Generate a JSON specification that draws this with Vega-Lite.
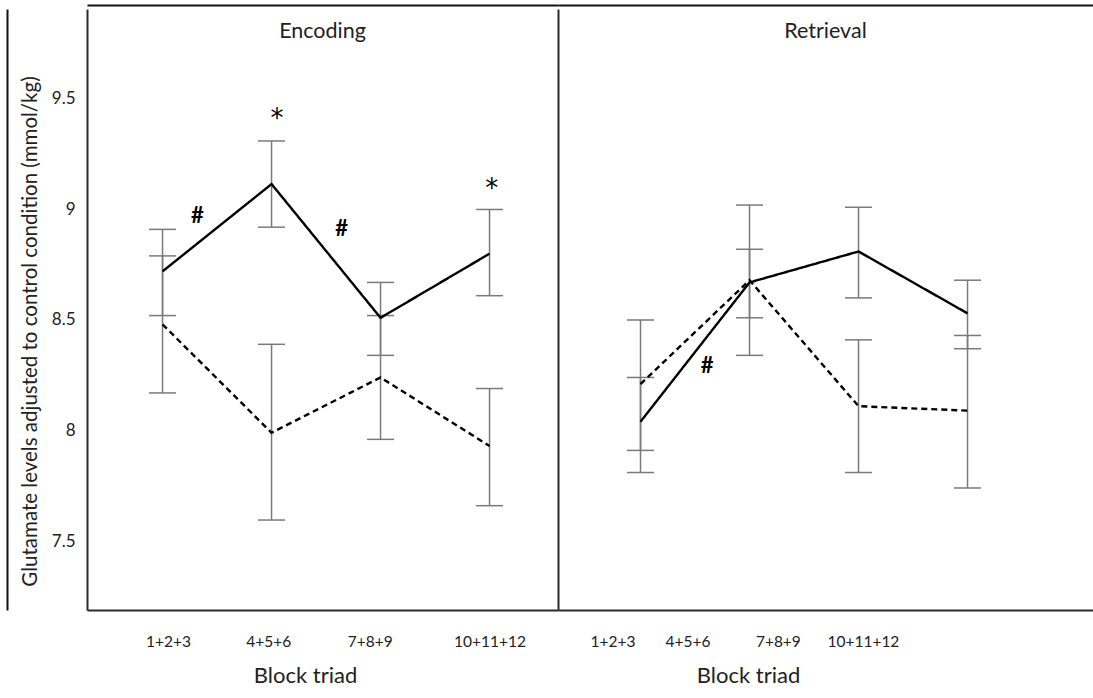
{
  "$schema": "https://vega.github.io/schema/vega-lite/v6.json",
  "padding": {"left": 7, "top": 5, "right": 0, "bottom": 0},
  "spacing": 0,
  "datasets": {
    "glutamate": [
      {"phase": "Encoding", "block": 1, "triad": "1+2+3", "condition": "A", "mean": 8.72, "lower": 8.52, "upper": 8.91},
      {"phase": "Encoding", "block": 2, "triad": "4+5+6", "condition": "A", "mean": 9.115, "lower": 8.92, "upper": 9.31},
      {"phase": "Encoding", "block": 3, "triad": "7+8+9", "condition": "A", "mean": 8.51, "lower": 8.34, "upper": 8.67},
      {"phase": "Encoding", "block": 4, "triad": "10+11+12", "condition": "A", "mean": 8.8, "lower": 8.61, "upper": 9.0},
      {"phase": "Encoding", "block": 1, "triad": "1+2+3", "condition": "B", "mean": 8.48, "lower": 8.17, "upper": 8.79},
      {"phase": "Encoding", "block": 2, "triad": "4+5+6", "condition": "B", "mean": 7.99, "lower": 7.595, "upper": 8.39},
      {"phase": "Encoding", "block": 3, "triad": "7+8+9", "condition": "B", "mean": 8.24, "lower": 7.96, "upper": 8.52},
      {"phase": "Encoding", "block": 4, "triad": "10+11+12", "condition": "B", "mean": 7.93, "lower": 7.66, "upper": 8.19},
      {"phase": "Retrieval", "block": 1, "triad": "1+2+3", "condition": "A", "mean": 8.04, "lower": 7.81, "upper": 8.24},
      {"phase": "Retrieval", "block": 2, "triad": "4+5+6", "condition": "A", "mean": 8.67, "lower": 8.51, "upper": 8.82},
      {"phase": "Retrieval", "block": 3, "triad": "7+8+9", "condition": "A", "mean": 8.81, "lower": 8.6, "upper": 9.01},
      {"phase": "Retrieval", "block": 4, "triad": "10+11+12", "condition": "A", "mean": 8.53, "lower": 8.37, "upper": 8.68},
      {"phase": "Retrieval", "block": 1, "triad": "1+2+3", "condition": "B", "mean": 8.21, "lower": 7.91, "upper": 8.5},
      {"phase": "Retrieval", "block": 2, "triad": "4+5+6", "condition": "B", "mean": 8.68, "lower": 8.34, "upper": 9.02},
      {"phase": "Retrieval", "block": 3, "triad": "7+8+9", "condition": "B", "mean": 8.11, "lower": 7.81, "upper": 8.41},
      {"phase": "Retrieval", "block": 4, "triad": "10+11+12", "condition": "B", "mean": 8.09, "lower": 7.74, "upper": 8.43}
    ],
    "notes": [
      {"phase": "Encoding", "block": 2.05, "value": 9.41, "symbol": "*"},
      {"phase": "Encoding", "block": 4.02, "value": 9.093, "symbol": "*"},
      {"phase": "Encoding", "block": 1.32, "value": 8.97, "symbol": "#"},
      {"phase": "Encoding", "block": 2.644, "value": 8.91, "symbol": "#"},
      {"phase": "Retrieval", "block": 1.61, "value": 8.293, "symbol": "#"}
    ]
  },
  "hconcat": [
    {
      "width": 471,
      "height": 601,
      "title": "Encoding",
      "resolve": {"axis": {"x": "independent", "y": "independent"}},
      "layer": [
        {
          "data": {"name": "glutamate"},
          "transform": [{"filter": "datum.phase === 'Encoding'"}],
          "mark": {"type": "rule", "color": "#7a7a7a", "strokeWidth": 1.5},
          "encoding": {
            "x": {
              "field": "block",
              "type": "quantitative",
              "scale": {"domain": [0.307, 4.628], "nice": false, "zero": false},
              "axis": {
                "values": [1.05, 1.97, 2.9, 4.0],
                "labelExpr": "['1+2+3', '4+5+6', '7+8+9', '10+11+12'][round(datum.index * 3)]",
                "title": "Block triad",
                "titleX": 218,
                "titleY": 72
              }
            },
            "xOffset": {"field": "condition", "type": "nominal", "scale": {"range": [-4.4, 4.4], "reverse": true, "paddingInner": 0, "paddingOuter": 0}},
            "y": {
              "field": "lower",
              "type": "quantitative",
              "scale": {"domain": [7.188, 9.907], "nice": false, "zero": false},
              "axis": {
                "values": [7.5, 8, 8.5, 9, 9.5],
                "format": "~g",
                "title": "Glutamate levels adjusted to control condition (mmol/kg)",
                "titleX": -57,
                "titleY": 322,
                "titleAngle": -90,
                "titleAlign": "center",
                "titleBaseline": "middle"
              }
            },
            "y2": {"field": "upper"}
          }
        },
        {
          "data": {"name": "glutamate"},
          "transform": [{"filter": "datum.phase === 'Encoding'"}],
          "mark": {"type": "tick", "orient": "horizontal", "color": "#7a7a7a", "size": 27, "thickness": 1.5, "opacity": 1},
          "encoding": {
            "x": {"field": "block", "type": "quantitative", "axis": null},
            "xOffset": {"field": "condition", "type": "nominal", "scale": {"range": [-4.4, 4.4], "reverse": true, "paddingInner": 0, "paddingOuter": 0}},
            "y": {"field": "lower", "type": "quantitative", "axis": null}
          }
        },
        {
          "data": {"name": "glutamate"},
          "transform": [{"filter": "datum.phase === 'Encoding'"}],
          "mark": {"type": "tick", "orient": "horizontal", "color": "#7a7a7a", "size": 27, "thickness": 1.5, "opacity": 1},
          "encoding": {
            "x": {"field": "block", "type": "quantitative", "axis": null},
            "xOffset": {"field": "condition", "type": "nominal", "scale": {"range": [-4.4, 4.4], "reverse": true, "paddingInner": 0, "paddingOuter": 0}},
            "y": {"field": "upper", "type": "quantitative", "axis": null}
          }
        },
        {
          "data": {"name": "glutamate"},
          "transform": [{"filter": "datum.phase === 'Encoding'"}],
          "mark": {"type": "line", "color": "#000000", "strokeWidth": 2.4},
          "encoding": {
            "x": {"field": "block", "type": "quantitative", "axis": null},
            "xOffset": {"field": "condition", "type": "nominal", "scale": {"range": [-4.4, 4.4], "reverse": true, "paddingInner": 0, "paddingOuter": 0}},
            "y": {"field": "mean", "type": "quantitative", "axis": null},
            "strokeDash": {"field": "condition", "type": "nominal", "scale": {"domain": ["A", "B"], "range": [[1, 0], [6, 4]]}, "legend": null}
          }
        },
        {
          "data": {"name": "notes"},
          "transform": [{"filter": "datum.phase === 'Encoding' && datum.symbol === '*'"}],
          "mark": {"type": "text", "font": "DejaVu Sans", "fontSize": 26, "color": "#000000", "align": "center", "baseline": "middle"},
          "encoding": {
            "x": {"field": "block", "type": "quantitative", "axis": null},
            "y": {"field": "value", "type": "quantitative", "axis": null},
            "text": {"field": "symbol"}
          }
        },
        {
          "data": {"name": "notes"},
          "transform": [{"filter": "datum.phase === 'Encoding' && datum.symbol === '#'"}],
          "mark": {"type": "text", "font": "Lato", "fontWeight": "bold", "fontSize": 22, "color": "#000000", "align": "center", "baseline": "middle"},
          "encoding": {
            "x": {
              "field": "block",
              "type": "quantitative",
              "axis": {"orient": "top", "offset": 4, "labels": false, "title": null, "domainColor": "#111111"}
            },
            "y": {
              "field": "value",
              "type": "quantitative",
              "axis": {"orient": "left", "offset": 80, "labels": false, "title": null, "domainColor": "#111111"}
            },
            "text": {"field": "symbol"}
          }
        }
      ]
    },
    {
      "width": 535,
      "height": 601,
      "title": "Retrieval",
      "resolve": {"axis": {"x": "independent", "y": "independent"}},
      "layer": [
        {
          "data": {"name": "glutamate"},
          "transform": [{"filter": "datum.phase === 'Retrieval'"}],
          "mark": {"type": "rule", "color": "#7a7a7a", "strokeWidth": 1.5},
          "encoding": {
            "x": {
              "field": "block",
              "type": "quantitative",
              "scale": {"domain": [0.243, 5.151], "nice": false, "zero": false},
              "axis": {
                "values": [0.742, 1.43, 2.26, 3.04],
                "labelExpr": "['1+2+3', '4+5+6', '7+8+9', '10+11+12'][round(datum.index * 3)]",
                "title": "Block triad",
                "titleX": 190,
                "titleY": 72
              }
            },
            "xOffset": {"field": "condition", "type": "nominal", "scale": {"range": [-4.4, 4.4], "reverse": true, "paddingInner": 0, "paddingOuter": 0}},
            "y": {
              "field": "lower",
              "type": "quantitative",
              "scale": {"domain": [7.188, 9.907], "nice": false, "zero": false},
              "axis": {"labels": false, "title": null}
            },
            "y2": {"field": "upper"}
          }
        },
        {
          "data": {"name": "glutamate"},
          "transform": [{"filter": "datum.phase === 'Retrieval'"}],
          "mark": {"type": "tick", "orient": "horizontal", "color": "#7a7a7a", "size": 27, "thickness": 1.5, "opacity": 1},
          "encoding": {
            "x": {"field": "block", "type": "quantitative", "axis": null},
            "xOffset": {"field": "condition", "type": "nominal", "scale": {"range": [-4.4, 4.4], "reverse": true, "paddingInner": 0, "paddingOuter": 0}},
            "y": {"field": "lower", "type": "quantitative", "axis": null}
          }
        },
        {
          "data": {"name": "glutamate"},
          "transform": [{"filter": "datum.phase === 'Retrieval'"}],
          "mark": {"type": "tick", "orient": "horizontal", "color": "#7a7a7a", "size": 27, "thickness": 1.5, "opacity": 1},
          "encoding": {
            "x": {"field": "block", "type": "quantitative", "axis": null},
            "xOffset": {"field": "condition", "type": "nominal", "scale": {"range": [-4.4, 4.4], "reverse": true, "paddingInner": 0, "paddingOuter": 0}},
            "y": {"field": "upper", "type": "quantitative", "axis": null}
          }
        },
        {
          "data": {"name": "glutamate"},
          "transform": [{"filter": "datum.phase === 'Retrieval'"}],
          "mark": {"type": "line", "color": "#000000", "strokeWidth": 2.4},
          "encoding": {
            "x": {"field": "block", "type": "quantitative", "axis": null},
            "xOffset": {"field": "condition", "type": "nominal", "scale": {"range": [-4.4, 4.4], "reverse": true, "paddingInner": 0, "paddingOuter": 0}},
            "y": {"field": "mean", "type": "quantitative", "axis": null},
            "strokeDash": {"field": "condition", "type": "nominal", "scale": {"domain": ["A", "B"], "range": [[1, 0], [6, 4]]}, "legend": null}
          }
        },
        {
          "data": {"name": "notes"},
          "transform": [{"filter": "datum.phase === 'Retrieval'"}],
          "mark": {"type": "text", "font": "Lato", "fontWeight": "bold", "fontSize": 22, "color": "#000000", "align": "center", "baseline": "middle"},
          "encoding": {
            "x": {
              "field": "block",
              "type": "quantitative",
              "axis": {"orient": "top", "offset": 4, "labels": false, "title": null, "domainColor": "#111111"}
            },
            "y": {"field": "value", "type": "quantitative", "axis": null},
            "text": {"field": "symbol"}
          }
        }
      ]
    }
  ],
  "config": {
    "font": "Lato",
    "view": {"stroke": null},
    "axis": {
      "domainColor": "#2b2b2b",
      "domainWidth": 2,
      "ticks": false,
      "tickSize": 0,
      "grid": false,
      "labelFont": "Lato",
      "labelColor": "#222222",
      "titleFont": "Lato",
      "titleColor": "#222222",
      "titleFontWeight": "normal"
    },
    "axisX": {
      "labelFontSize": 15.5,
      "labelBaseline": "alphabetic",
      "labelPadding": 36,
      "labelFlush": false,
      "labelOverlap": false,
      "titleFontSize": 22,
      "titleBaseline": "alphabetic",
      "titleAlign": "center"
    },
    "axisY": {
      "labelFontSize": 17,
      "labelPadding": 12,
      "titleFontSize": 20.5
    },
    "title": {
      "font": "Lato",
      "fontSize": 21.5,
      "fontWeight": "normal",
      "color": "#222222",
      "offset": -37,
      "baseline": "alphabetic",
      "anchor": "middle"
    }
  }
}
